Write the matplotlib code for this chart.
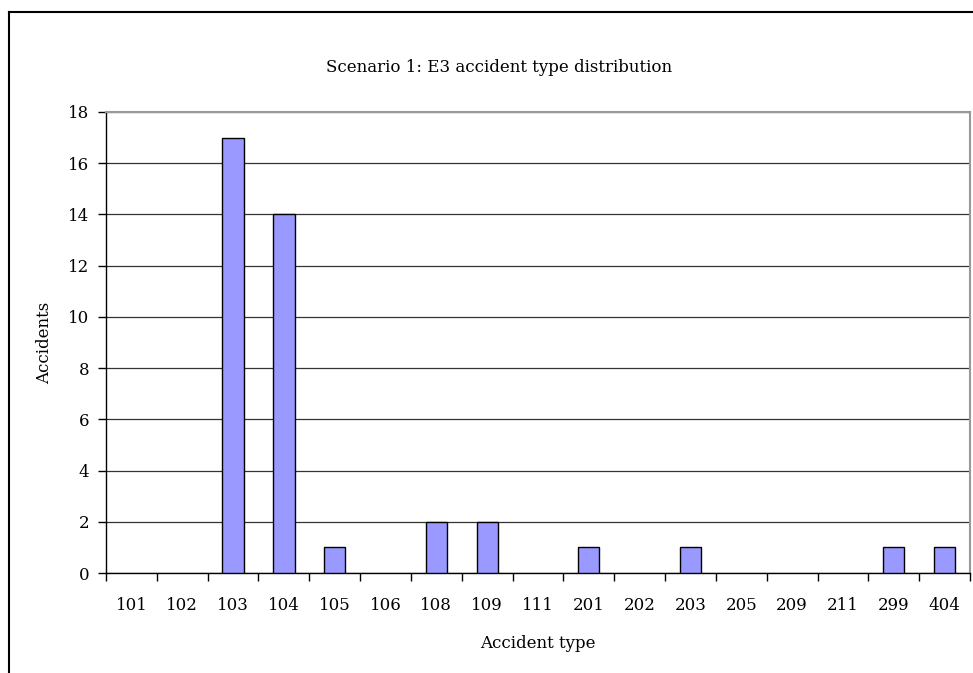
import numpy as np
import matplotlib.pyplot as plt
from matplotlib.lines import Line2D

types = ['101', '102', '103', '104', '105', '106', '108', '109', '111',
         '201', '202', '203', '205', '209', '211', '299', '404']
accidents = [0, 0, 17, 14, 1, 0, 2, 2, 0, 1, 0, 1, 0, 0, 0, 1, 1]
yticks = [0, 2, 4, 6, 8, 10, 12, 14, 16, 18]

plt.rcParams['font.family'] = ['DejaVu Serif']
FS = 12

W, H = 973, 673
fig = plt.figure(figsize=(W / 100, H / 100), dpi=100)
ax = fig.add_axes([106 / W, 1 - 573 / H, (970 - 106) / W, (573 - 112) / H])

x = np.arange(len(types))
edges = ['black' if v > 0 else 'none' for v in accidents]
ax.bar(x, accidents, width=0.42, color='#9999FF', edgecolor=edges, linewidth=1, zorder=3)

ax.set_xlim(-0.5, len(types) - 0.5)
ax.set_ylim(0, 18)
ax.set_yticks(yticks)
ax.yaxis.grid(True, color='#333333', linewidth=0.9, zorder=0)

ax.set_xticks(x)
ax.set_xticklabels(types, fontsize=FS)
ax.set_xticks(np.arange(len(types) + 1) - 0.5, minor=True)
ax.tick_params(axis='x', which='major', length=0, pad=17)
ax.tick_params(axis='x', which='minor', length=6, direction='out', width=1)
ax.tick_params(axis='y', length=6, direction='out', width=1, labelsize=FS, pad=6)

for s in ['top', 'right']:
    ax.spines[s].set_color('#999999')
    ax.spines[s].set_linewidth(1.5)
ax.spines['left'].set_linewidth(1)
ax.spines['bottom'].set_linewidth(1)

fig.text(499 / W, 1 - 68 / H, 'Scenario 1: E3 accident type distribution',
         ha='center', va='center', fontsize=FS)
fig.text(45 / W, 1 - 343 / H, 'Accidents', rotation=90,
         ha='center', va='center', fontsize=FS)
fig.text(538 / W, 1 - 643 / H, 'Accident type',
         ha='center', va='center', fontsize=FS)

# outer chart frame
fig.add_artist(Line2D([9 / W, 1], [1 - 12 / H, 1 - 12 / H], transform=fig.transFigure,
                      color='black', linewidth=1.5))
fig.add_artist(Line2D([9 / W, 9 / W], [0, 1 - 12 / H], transform=fig.transFigure,
                      color='black', linewidth=1.5))

fig.savefig('out.png', dpi=100)
